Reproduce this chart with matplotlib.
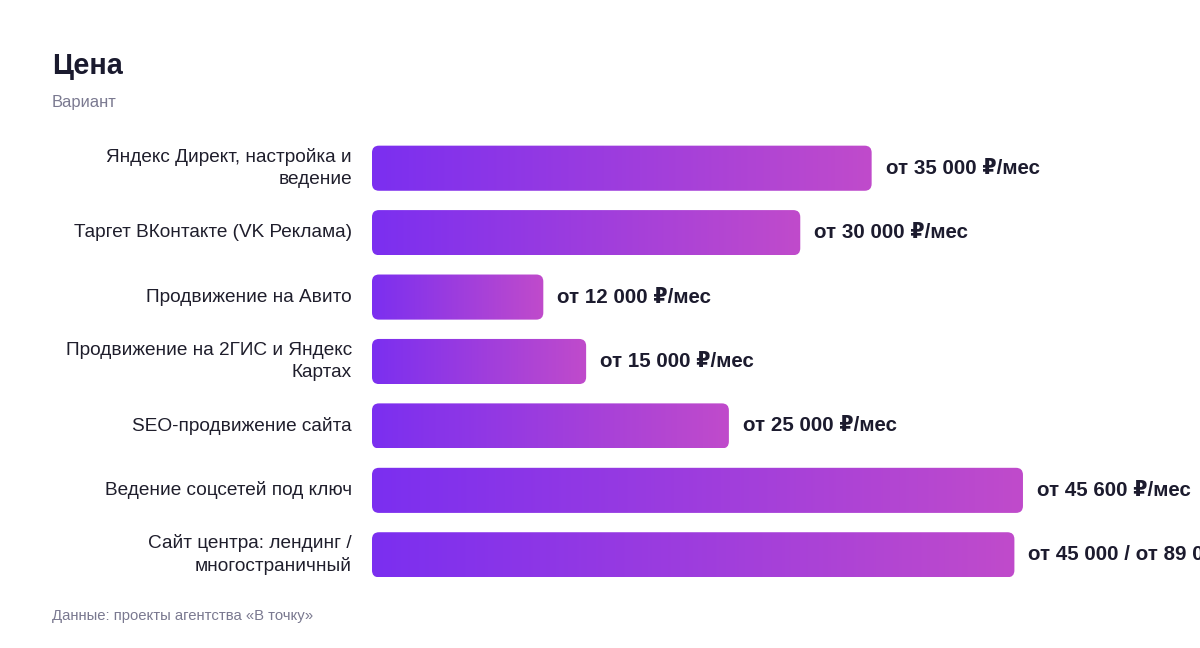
import numpy as np
import matplotlib
matplotlib.use("Agg")
import matplotlib.pyplot as plt
from matplotlib.patches import FancyBboxPatch
from matplotlib.colors import LinearSegmentedColormap

categories = [
    "Яндекс Директ, настройка и\nведение",
    "Таргет ВКонтакте (VK Реклама)",
    "Продвижение на Авито",
    "Продвижение на 2ГИС и Яндекс\nКартах",
    "SEO-продвижение сайта",
    "Ведение соцсетей под ключ",
    "Сайт центра: лендинг /\nмногостраничный",
]
values = [35000, 30000, 12000, 15000, 25000, 45600, 45000]
value_labels = [
    "от 35 000 ₽/мес",
    "от 30 000 ₽/мес",
    "от 12 000 ₽/мес",
    "от 15 000 ₽/мес",
    "от 25 000 ₽/мес",
    "от 45 600 ₽/мес",
    "от 45 000 / от 89 000 ₽",
]
title = "Цена"
subtitle = "Вариант"
footer = "Данные: проекты агентства «В точку»"

plt.rcParams['font.family'] = ['Liberation Sans', 'DejaVu Sans']

W, H = 1200, 648
fig = plt.figure(figsize=(W / 100, H / 100), dpi=100)
ax_left, ax_right = 372, 1180
ax_top, ax_bot = 136, 587
ax = fig.add_axes([ax_left / W, 1 - ax_bot / H, (ax_right - ax_left) / W, (ax_bot - ax_top) / H])
xmax = 56600
ax.set_xlim(0, xmax)
ax.set_ylim(len(values) - 0.5, -0.5)
ax.axis('off')

cmap = LinearSegmentedColormap.from_list("g", ["#7b2ff0", "#c04bcb"])
grad = np.linspace(0, 1, 256).reshape(1, -1)

xu_per_px = xmax / (ax_right - ax_left)
yu_per_px = len(values) / (ax_bot - ax_top)
bh = 0.70
rad_px = 7
for i, v in enumerate(values):
    y0 = i - bh / 2
    patch = FancyBboxPatch((0, y0), v, bh,
                           boxstyle=f"round,pad=0,rounding_size={rad_px * xu_per_px}",
                           mutation_aspect=yu_per_px / xu_per_px,
                           facecolor='none', edgecolor='none')
    ax.add_patch(patch)
    im = ax.imshow(grad, extent=(0, v, y0 + bh, y0), cmap=cmap, aspect='auto',
                   interpolation='bilinear', zorder=2)
    im.set_clip_path(patch)
    ax.text(v + 14 * xu_per_px, i, value_labels[i], ha='left', va='center',
            fontsize=14.8, fontweight='bold', color='#1c1b2e', clip_on=False)
    ax.text(-20 * xu_per_px, i, categories[i], ha='right', va='center',
            fontsize=13.7, color='#1f1e2c', linespacing=1.38, clip_on=False)

ax.set_xlim(0, xmax)
ax.set_ylim(len(values) - 0.5, -0.5)

fig.text(52 / W, 1 - 66 / H, title, fontsize=20.8, fontweight='bold', color='#1a1a2e',
         ha='left', va='center')
fig.text(52 / W, 1 - 102 / H, subtitle, fontsize=11.9, color='#7a7990', ha='left', va='center')
fig.text(52 / W, 1 - 616 / H, footer, fontsize=10.7, color='#7a7990', ha='left', va='center')

fig.savefig("out.png", dpi=100, facecolor='white')
